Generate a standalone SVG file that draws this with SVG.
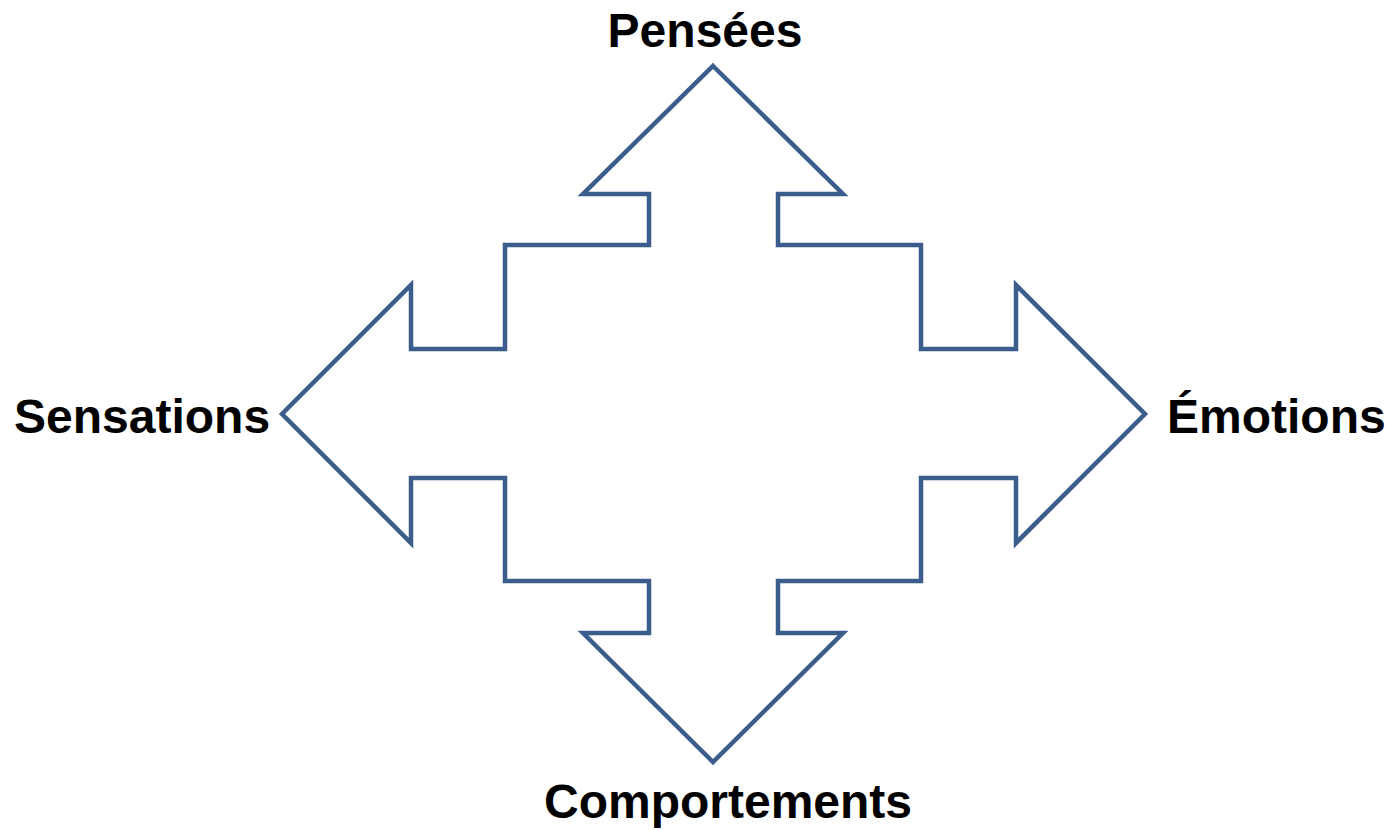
<svg xmlns="http://www.w3.org/2000/svg" width="1389" height="830" viewBox="0 0 1389 830">
<style>
.lbl{font-family:"Liberation Sans",Arial,sans-serif;font-weight:bold;font-size:48px;fill:#000}
.shape{fill:#fff;stroke:#3a5d8b;stroke-width:4.5;stroke-linejoin:miter}
</style>
<rect width="1389" height="830" fill="#fff"/>
<g id="arrows">
<path class="shape" d="M713,66 L843,194 L778,194 L778,245 L921,245 L921,349 L1016,349 L1016,285 L1145,414 L1016,543 L1016,478 L921,478 L921,581 L778,581 L778,633 L843,633 L713,762 L583,633 L649,633 L649,581 L505,581 L505,478 L411,478 L411,543 L282,414 L411,285 L411,349 L505,349 L505,245 L649,245 L649,194 L583,194 Z"/>
</g>
<g id="pensees"><text class="lbl" x="705" y="47" text-anchor="middle">Pensées</text></g>
<g id="sensations"><text class="lbl" x="14" y="433">Sensations</text></g>
<g id="emotions"><text class="lbl" x="1167" y="433">Émotions</text></g>
<g id="comportements"><text class="lbl" x="728" y="818" text-anchor="middle">Comportements</text></g>
</svg>
